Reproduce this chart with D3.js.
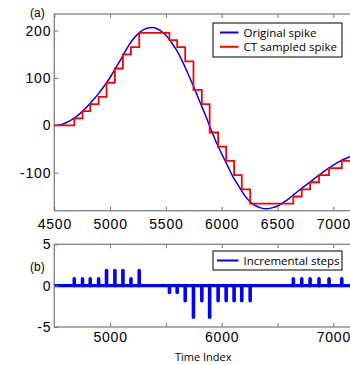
<!DOCTYPE html>
<html>
<head>
<meta charset="utf-8">
<script src="https://cdn.jsdelivr.net/npm/d3@7"></script>
<style>
  body { margin: 0; background: #fff; }
  .tick text { font-family: "Liberation Sans", Arial, sans-serif; font-size: 14px; letter-spacing: 0.8px; fill: #000; }
  .tick line { stroke: #777; }
</style>
</head>
<body>
<div id="chart"></div>
<script>
// original spike
const spikeT = [4500, 4550, 4600, 4650, 4700, 4750, 4800, 4850, 4900, 4950,
  5000, 5050, 5100, 5150, 5200, 5250, 5300, 5350, 5400, 5450,
  5500, 5550, 5600, 5650, 5700, 5750, 5800, 5850, 5900, 5950,
  6000, 6050, 6100, 6150, 6200, 6250, 6300, 6350, 6400, 6450,
  6500, 6550, 6600, 6650, 6700, 6750, 6800, 6850, 6900, 6950,
  7000, 7050, 7100, 7150, 7200];
const spikeV = [0, 1, 5, 11, 19, 29, 41, 54, 68, 84,
  101, 121, 141, 162, 180, 193, 202, 206, 206, 200,
  190, 175, 157, 134, 108, 81, 52, 24, -6, -35,
  -60, -84, -108, -127, -146, -160, -169, -174, -176, -174,
  -170, -163, -155, -145, -136, -127, -118, -109, -100, -92,
  -84, -77, -71, -66, -61];

// level-crossing samples: time of each step and its size in levels
const stepT = [4679, 4753, 4822, 4897, 4968, 5043, 5115, 5187, 5261,
  5532, 5601, 5673, 5747, 5822, 5892, 5968, 6040, 6111, 6180, 6255,
  6642, 6717, 6792, 6872, 6962, 7076];
const stepInc = [1, 1, 1, 1, 2, 2, 2, 1, 2,
  -1, -1, -2, -4, -2, -4, -2, -2, -2, -2, -2,
  1, 1, 1, 1, 1, 1];
const levelSize = 15;

const xTicksTop = [4500, 5000, 5500, 6000, 6500, 7000];
const yTicksTop = [-100, 0, 100, 200];
const xTicksBottom = [5000, 5500, 6000, 6500, 7000];
const xLabelsBottom = [5000, 6000, 7000];
const yTicksBottom = [-5, 0, 5];

const W = 350, H = 365;
const left = 54.3, right = 352;
const top1 = 14, bot1 = 210.7;
const top2 = 244.3, bot2 = 327;

const svg = d3.select('#chart').append('svg')
  .attr('width', W).attr('height', H);

const x = d3.scaleLinear().domain([4500, 7000]).range([left, 333.3]);
const y1 = d3.scaleLinear().domain([-180, 235]).range([bot1, top1]);
const y2 = d3.scaleLinear().domain([-5, 5]).range([bot2, top2]);

// red step series built from the increments
let level = 0;
const ctPts = [[4500, 0]];
stepT.forEach((t, i) => {
  level += stepInc[i] * levelSize;
  ctPts.push([t, level]);
});
ctPts.push([7200, level]);

const spikePts = spikeT.map((t, i) => [t, spikeV[i]]);

// clip paths
const defs = svg.append('defs');
defs.append('clipPath').attr('id', 'clip1').append('rect')
  .attr('x', left).attr('y', top1).attr('width', right - left).attr('height', bot1 - top1);
defs.append('clipPath').attr('id', 'clip2').append('rect')
  .attr('x', left).attr('y', top2).attr('width', right - left).attr('height', bot2 - top2);

// ---------- panel (a)
const g1 = svg.append('g');
g1.append('rect')
  .attr('x', left).attr('y', top1).attr('width', right - left).attr('height', bot1 - top1)
  .attr('fill', '#fff').attr('stroke', '#888').attr('stroke-width', 1.4);

const plot1 = g1.append('g').attr('clip-path', 'url(#clip1)');
plot1.append('path')
  .datum(spikePts)
  .attr('d', d3.line().x(d => x(d[0])).y(d => y1(d[1])).curve(d3.curveCatmullRom))
  .attr('fill', 'none').attr('stroke', '#0000ff').attr('stroke-width', 1.5);
plot1.append('path')
  .datum(ctPts)
  .attr('d', d3.line().x(d => x(d[0])).y(d => y1(d[1])).curve(d3.curveStepAfter))
  .attr('fill', 'none').attr('stroke', '#ff0000').attr('stroke-width', 1.8);

const ax1b = g1.append('g').attr('transform', `translate(0,${bot1})`)
  .call(d3.axisBottom(x).tickValues(xTicksTop).tickSize(-4).tickPadding(8).tickFormat(d3.format('d')));
const ax1t = g1.append('g').attr('transform', `translate(0,${top1})`)
  .call(d3.axisTop(x).tickValues(xTicksTop).tickSize(-4).tickFormat(''));
const ax1l = g1.append('g').attr('transform', `translate(${left},0)`)
  .call(d3.axisLeft(y1).tickValues(yTicksTop).tickSize(-4).tickPadding(3).tickFormat(d3.format('d')));
[ax1b, ax1t, ax1l].forEach(a => a.select('.domain').remove());
ax1l.selectAll('text').text(d => d < 0 ? '-' + Math.abs(d) : d);

svg.append('text').attr('x', 30).attr('y', 17)
  .attr('font-family', '"Liberation Sans", Arial, sans-serif').attr('font-size', 12)
  .text('(a)');

// legend (a)
const leg1 = svg.append('g');
leg1.append('rect').attr('x', 213).attr('y', 23).attr('width', 129).attr('height', 34)
  .attr('fill', '#fff').attr('stroke', '#000').attr('stroke-width', 1);
const legItems = [['Original spike', '#0000ff'], ['CT sampled spike', '#ff0000']];
legItems.forEach((it, i) => {
  const yy = 32.5 + i * 14.3;
  leg1.append('line').attr('x1', 220).attr('x2', 238.5).attr('y1', yy).attr('y2', yy)
    .attr('stroke', it[1]).attr('stroke-width', 2);
  leg1.append('text').attr('x', 243.5).attr('y', yy + 4)
    .attr('font-family', '"Open Sans", sans-serif').attr('font-size', 11.5)
    .text(it[0]);
});

// ---------- panel (b)
const g2 = svg.append('g');
g2.append('rect')
  .attr('x', left).attr('y', top2).attr('width', right - left).attr('height', bot2 - top2)
  .attr('fill', '#fff').attr('stroke', '#888').attr('stroke-width', 1.4);

const plot2 = g2.append('g').attr('clip-path', 'url(#clip2)');
plot2.append('line')
  .attr('x1', left).attr('x2', right).attr('y1', y2(0)).attr('y2', y2(0))
  .attr('stroke', '#0000ff').attr('stroke-width', 3.2);
plot2.selectAll('.stem')
  .data(stepT.map((t, i) => [t, stepInc[i]]))
  .enter().append('line')
  .classed('stem', true)
  .attr('x1', d => x(d[0])).attr('x2', d => x(d[0]))
  .attr('y1', y2(0)).attr('y2', d => y2(d[1]) + (d[1] > 0 ? 1.5 : -1.5))
  .attr('stroke', '#0000ff').attr('stroke-width', 3.6).attr('stroke-linecap', 'round');

const ax2b = g2.append('g').attr('transform', `translate(0,${bot2})`)
  .call(d3.axisBottom(x).tickValues(xTicksBottom).tickSize(-4).tickPadding(5)
    .tickFormat(d => xLabelsBottom.includes(d) ? d : ''));
const ax2t = g2.append('g').attr('transform', `translate(0,${top2})`)
  .call(d3.axisTop(x).tickValues(xTicksBottom).tickSize(-4).tickFormat(''));
const ax2l = g2.append('g').attr('transform', `translate(${left},0)`)
  .call(d3.axisLeft(y2).tickValues(yTicksBottom).tickSize(-4).tickPadding(3).tickFormat(d => d < 0 ? '-' + Math.abs(d) : d));
[ax2b, ax2t, ax2l].forEach(a => a.select('.domain').remove());

svg.append('text').attr('x', 30).attr('y', 270.5)
  .attr('font-family', '"Liberation Sans", Arial, sans-serif').attr('font-size', 12)
  .text('(b)');

// legend (b)
const leg2 = svg.append('g');
leg2.append('rect').attr('x', 213).attr('y', 251).attr('width', 129).attr('height', 19)
  .attr('fill', '#fff').attr('stroke', '#000').attr('stroke-width', 1);
leg2.append('line').attr('x1', 217).attr('x2', 238.5).attr('y1', 260.5).attr('y2', 260.5)
  .attr('stroke', '#0000ff').attr('stroke-width', 2);
leg2.append('text').attr('x', 243.5).attr('y', 264.5)
  .attr('font-family', '"Open Sans", sans-serif').attr('font-size', 11.5)
  .text('Incremental steps');

svg.append('text').attr('x', (left + right) / 2).attr('y', 361)
  .attr('text-anchor', 'middle')
  .attr('font-family', '"Open Sans", sans-serif').attr('font-size', 11)
  .text('Time Index');
</script>
</body>
</html>
